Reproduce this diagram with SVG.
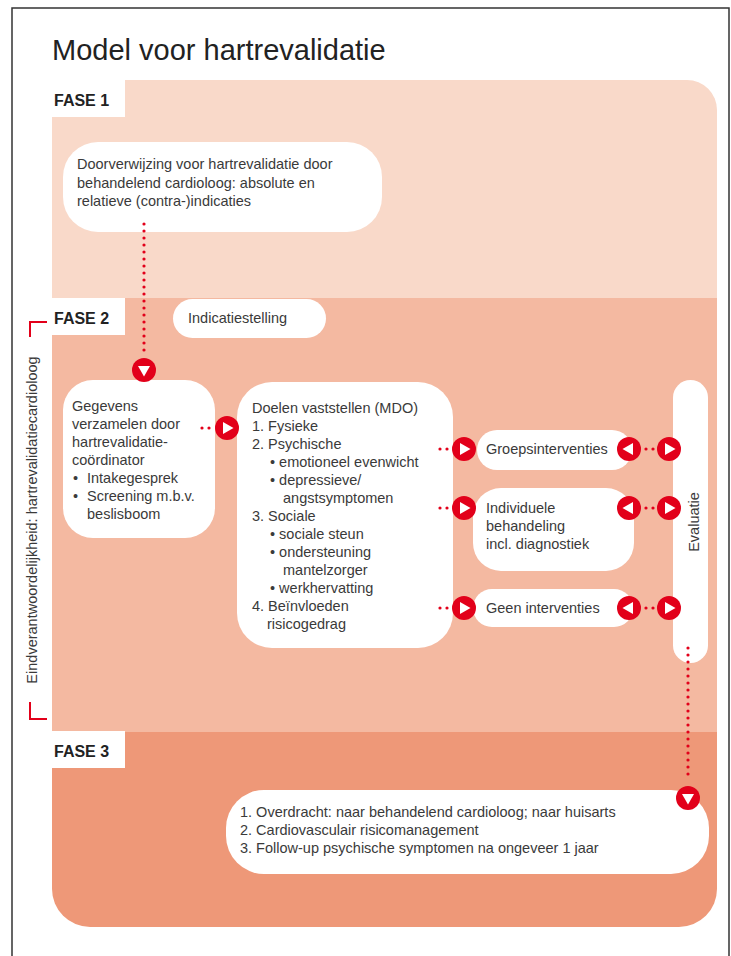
<svg xmlns="http://www.w3.org/2000/svg" width="731" height="956" viewBox="0 0 731 956">
<style>
  .t { font-family: "Liberation Sans", Arial, sans-serif; font-size: 14.5px; fill: #3a3a3a; }
  .lbl { font-family: "Liberation Sans", Arial, sans-serif; font-size: 16px; font-weight: bold; fill: #222; }
  .box { fill: #ffffff; }
  .dots { stroke: #e2001a; stroke-width: 3.2; stroke-dasharray: 0 7; stroke-linecap: round; fill: none; }
  .br { stroke: #e2001a; stroke-width: 2; fill: none; }
</style>
<defs>
  <g id="mr"><circle r="12" fill="#e2001a"/><polygon points="-4,-6 6.5,0 -4,6" fill="#fff"/></g>
  <g id="ml"><circle r="12" fill="#e2001a"/><polygon points="4,-6 -6.5,0 4,6" fill="#fff"/></g>
  <g id="md"><circle r="12" fill="#e2001a"/><polygon points="-6,-4 6,-4 0,6.5" fill="#fff"/></g>
</defs>
<rect width="731" height="956" fill="#fff"/>
<path d="M12,956 V8 H729 V956" fill="none" stroke="#333" stroke-width="1.5"/>

<text x="52" y="60" font-family="Liberation Sans, Arial, sans-serif" font-size="29" fill="#222">Model voor hartrevalidatie</text>

<g id="fase1">
  <path d="M52,80 H687 A30,30 0 0 1 717,110 V298 H52 Z" fill="#f9d9c9"/>
  <rect x="52" y="80" width="73" height="37" fill="#fff"/>
  <text class="lbl" x="54" y="106">FASE 1</text>
</g>
<g id="fase2">
  <rect x="52" y="298" width="665" height="434" fill="#f4b9a1"/>
  <rect x="52" y="298" width="73" height="37" fill="#fff"/>
  <text class="lbl" x="54" y="324">FASE 2</text>
</g>
<g id="fase3">
  <path d="M52,732 H717 V889 A38,38 0 0 1 679,927 H90 A38,38 0 0 1 52,889 Z" fill="#ee9878"/>
  <rect x="52" y="731" width="73" height="37" fill="#fff"/>
  <text class="lbl" x="54" y="757">FASE 3</text>
</g>

<g id="verantwoordelijkheid">
  <path class="br" d="M30,337 V322 H47"/>
  <path class="br" d="M30,702 V719 H47"/>
  <text class="t" font-size="14" transform="translate(36.5,520) rotate(-90)" text-anchor="middle">Eindverantwoordelijkheid: hartrevalidatiecardioloog</text>
</g>

<g id="doorverwijzing">
  <rect class="box" x="63" y="142" width="319" height="90" rx="35"/>
  <text class="t" x="77" y="169">Doorverwijzing voor hartrevalidatie door</text>
  <text class="t" x="77" y="188">behandelend cardioloog: absolute en</text>
  <text class="t" x="77" y="206">relatieve (contra-)indicaties</text>
</g>

<g id="indicatiestelling">
  <rect class="box" x="173" y="299" width="153" height="39" rx="19.5"/>
  <text class="t" x="188" y="323">Indicatiestelling</text>
</g>

<g id="gegevens">
  <rect class="box" x="63" y="380" width="152" height="158" rx="30"/>
  <text class="t" x="72" y="411">Gegevens</text>
  <text class="t" x="72" y="429">verzamelen door</text>
  <text class="t" x="72" y="447">hartrevalidatie-</text>
  <text class="t" x="72" y="465">coördinator</text>
  <text class="t" x="73" y="483">•</text><text class="t" x="87" y="483">Intakegesprek</text>
  <text class="t" x="73" y="501">•</text><text class="t" x="87" y="501">Screening m.b.v.</text>
  <text class="t" x="87" y="519">beslisboom</text>
</g>

<g id="doelen">
  <rect class="box" x="237" y="382" width="216" height="266" rx="35"/>
  <text class="t" x="252" y="413">Doelen vaststellen (MDO)</text>
  <text class="t" x="252" y="431">1. Fysieke</text>
  <text class="t" x="252" y="449">2. Psychische</text>
  <text class="t" x="270" y="467">• emotioneel evenwicht</text>
  <text class="t" x="270" y="485">• depressieve/</text>
  <text class="t" x="283" y="503">angstsymptomen</text>
  <text class="t" x="252" y="521">3. Sociale</text>
  <text class="t" x="270" y="539">• sociale steun</text>
  <text class="t" x="270" y="557">• ondersteuning</text>
  <text class="t" x="283" y="575">mantelzorger</text>
  <text class="t" x="270" y="593">• werkhervatting</text>
  <text class="t" x="252" y="611">4. Beïnvloeden</text>
  <text class="t" x="267" y="629">risicogedrag</text>
</g>

<g id="groepsinterventies">
  <rect class="box" x="477" y="430" width="155" height="40" rx="20"/>
  <text class="t" x="486" y="454">Groepsinterventies</text>
</g>
<g id="individuele">
  <rect class="box" x="473" y="488" width="161" height="83" rx="28"/>
  <text class="t" x="486" y="513">Individuele</text>
  <text class="t" x="486" y="531">behandeling</text>
  <text class="t" x="486" y="549">incl. diagnostiek</text>
</g>
<g id="geen">
  <rect class="box" x="473" y="589" width="160" height="38" rx="19"/>
  <text class="t" x="486" y="613">Geen interventies</text>
</g>
<g id="evaluatie">
  <rect class="box" x="673" y="380" width="35" height="283" rx="17.5"/>
  <text class="t" font-size="16" transform="translate(699,522) rotate(-90)" text-anchor="middle">Evaluatie</text>
</g>

<g id="fase3box">
  <rect class="box" x="226" y="790" width="483" height="84" rx="38"/>
  <text class="t" x="240" y="817">1. Overdracht: naar behandelend cardioloog; naar huisarts</text>
  <text class="t" x="240" y="835">2. Cardiovasculair risicomanagement</text>
  <text class="t" x="240" y="853">3. Follow-up psychische symptomen na ongeveer 1 jaar</text>
</g>

<g id="connectors">
  <line class="dots" x1="144" y1="224" x2="144" y2="352"/>
  <use href="#md" x="144" y="370"/>
  <line class="dots" x1="202" y1="428" x2="210" y2="428"/>
  <use href="#mr" x="227" y="428"/>
  <line class="dots" x1="440" y1="449" x2="448" y2="449"/>
  <use href="#mr" x="464" y="449"/>
  <line class="dots" x1="440" y1="508" x2="448" y2="508"/>
  <use href="#mr" x="464" y="508"/>
  <line class="dots" x1="440" y1="608" x2="448" y2="608"/>
  <use href="#mr" x="464" y="608"/>
  <use href="#ml" x="629" y="449"/>
  <line class="dots" x1="646" y1="449" x2="654" y2="449"/>
  <use href="#mr" x="669" y="449"/>
  <use href="#ml" x="629" y="508"/>
  <line class="dots" x1="646" y1="508" x2="654" y2="508"/>
  <use href="#mr" x="669" y="508"/>
  <use href="#ml" x="629" y="608"/>
  <line class="dots" x1="646" y1="608" x2="654" y2="608"/>
  <use href="#mr" x="669" y="608"/>
  <line class="dots" x1="688" y1="648" x2="688" y2="781"/>
  <use href="#md" x="688" y="798"/>
</g>
</svg>
